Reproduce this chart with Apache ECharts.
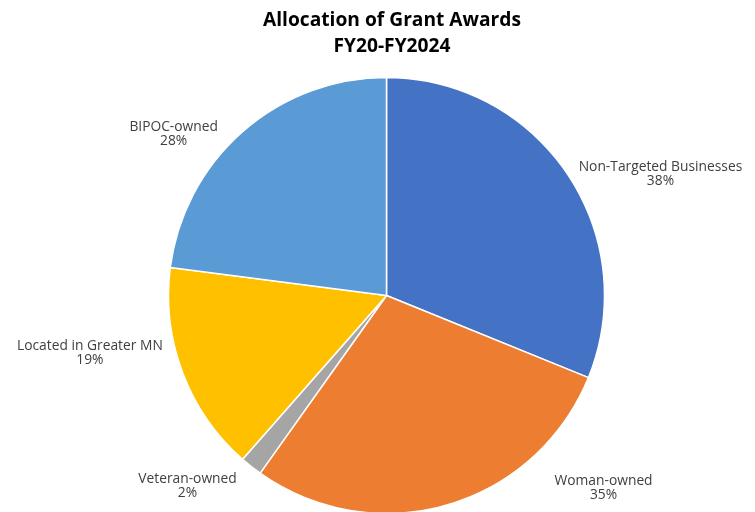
<!DOCTYPE html>
<html>
<head>
<meta charset="utf-8">
<script src="https://cdn.jsdelivr.net/npm/echarts@6/dist/echarts.min.js"></script>
<style>html,body{margin:0;padding:0;background:#fff}#c{width:755px;height:512px}</style>
</head>
<body>
<div id="c"></div>
<script>
var titleLines = ['Allocation of Grant Awards', 'FY20-FY2024'];
var categories = ['Non-Targeted Businesses', 'Woman-owned', 'Veteran-owned', 'Located in Greater MN', 'BIPOC-owned'];
var values = [38, 35, 2, 19, 28];
var colors = ['#4472C4', '#ED7D31', '#A5A5A5', '#FFC000', '#5B9BD5'];
// label nudges (style only)
var labelNudge = [[0, 3], [98, -21], [-4, 16], [-8, -21], [-14, 5]];

var font = 'Open Sans';
function fitSize(text, weight, target) {
  var ctx = document.createElement('canvas').getContext('2d');
  ctx.font = weight + ' 100px "' + font + '"';
  var w = ctx.measureText(text).width;
  return Math.round(100 * target / w * 10) / 10;
}
var titleSize = fitSize(titleLines[0], 'bold', 258);
var labelSize = fitSize(categories[0], 'normal', 164);

var chart = echarts.init(document.getElementById('c'), null, {renderer: 'canvas'});
chart.setOption({
  animation: false,
  title: {
    text: titleLines.join('\n'),
    left: 387,
    textAlign: 'center',
    top: 3,
    textStyle: {fontFamily: font, fontWeight: 'bold', fontSize: titleSize, color: '#000', lineHeight: 26}
  },
  series: [{
    type: 'pie',
    center: [386.5, 295.5],
    radius: [0, 218],
    startAngle: 90,
    clockwise: true,
    avoidLabelOverlap: false,
    itemStyle: {borderColor: '#fff', borderWidth: 1.5},
    label: {
      show: true,
      position: 'outside',
      distanceToLabelLine: 0,
      formatter: function (p) { return '{a|' + p.name + '}\n{a|' + p.value + '%}'; },
      rich: {a: {fontFamily: font, fontSize: labelSize, color: '#404040', align: 'center', lineHeight: 14}}
    },
    labelLine: {show: false, length: 4, length2: 8},
    labelLayout: function (p) {
      var n = labelNudge[p.dataIndex];
      return {dx: n[0], dy: n[1]};
    },
    data: categories.map(function (c, i) {
      return {name: c, value: values[i], itemStyle: {color: colors[i]}};
    })
  }]
});
</script>
</body>
</html>
